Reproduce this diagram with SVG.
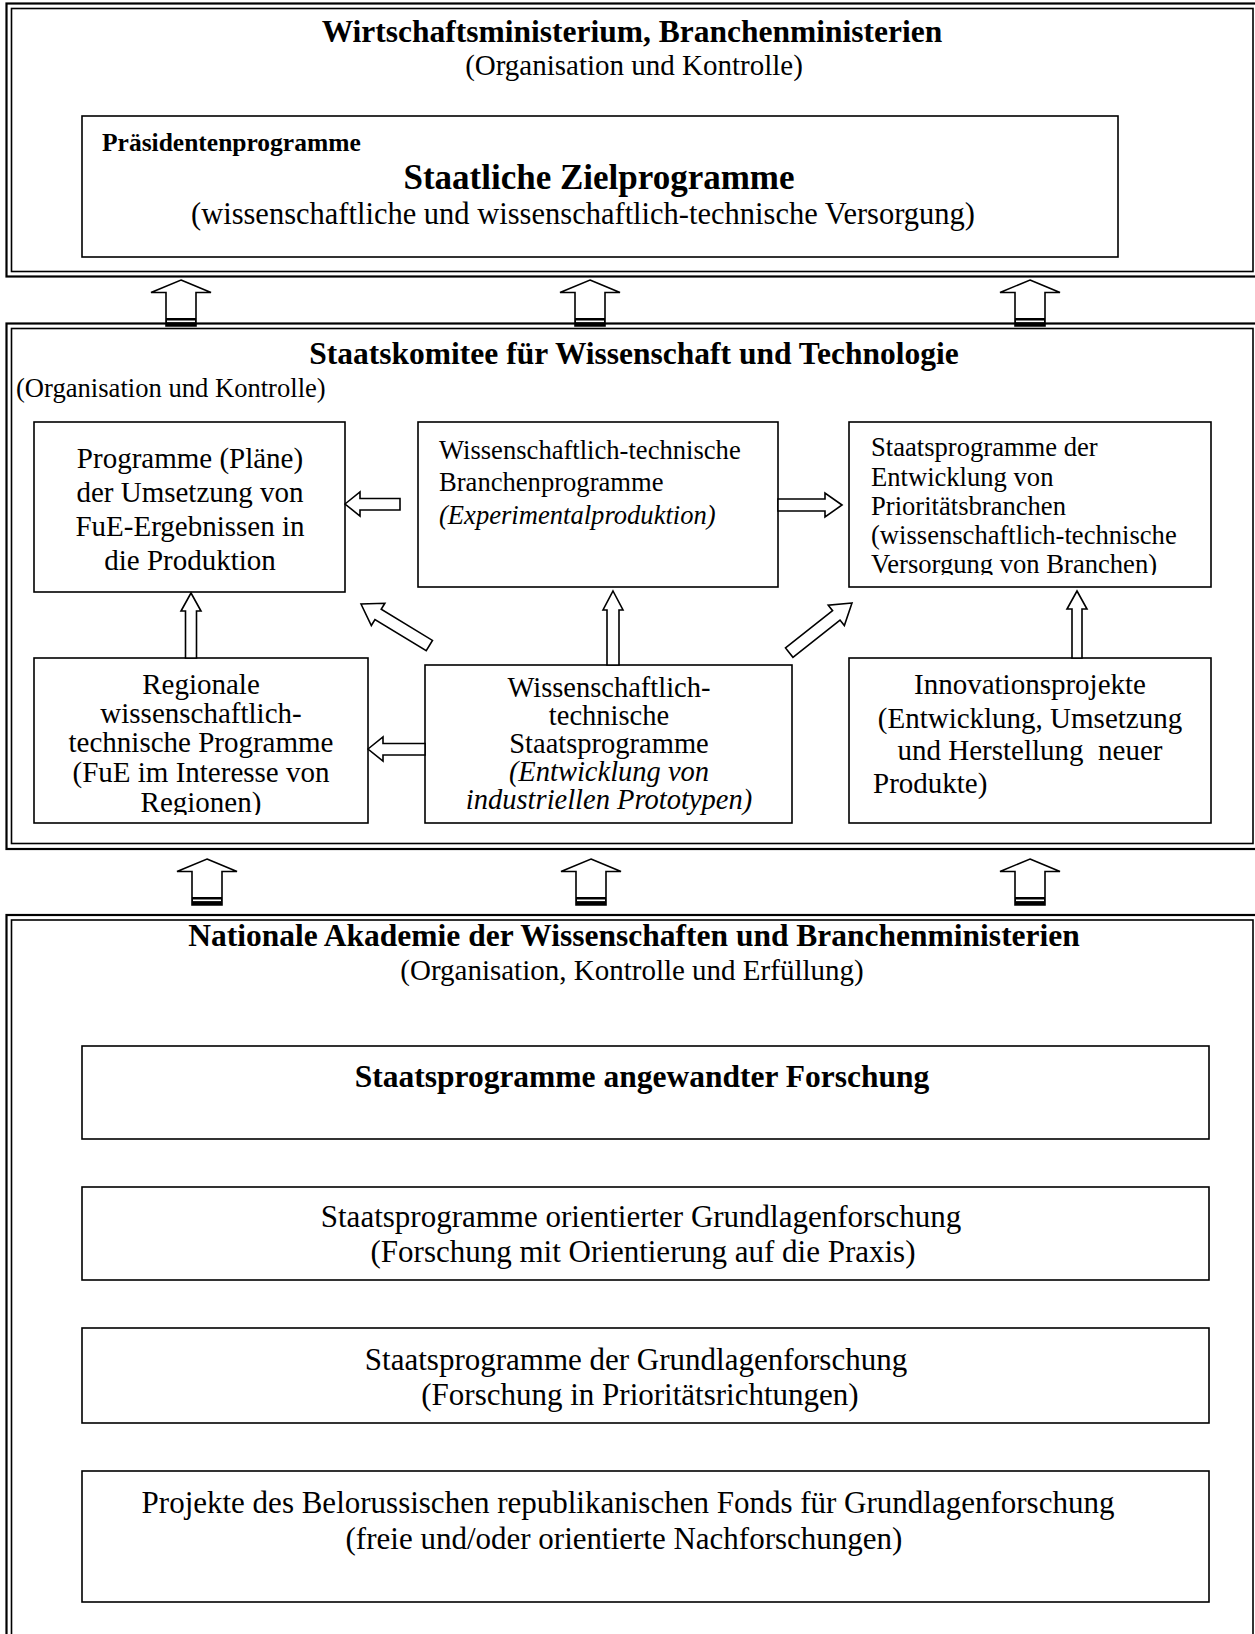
<svg xmlns="http://www.w3.org/2000/svg" width="1255" height="1634" viewBox="0 0 1255 1634">
<style>
text{font-family:"Liberation Serif","Times New Roman",serif;fill:#000}
.b{font-weight:bold}
.i{font-style:italic}
.m{text-anchor:middle}
.fo{fill:none;stroke:#000;stroke-width:2.2}
.fi{fill:none;stroke:#000;stroke-width:1.6}
.box{fill:#fff;stroke:#000;stroke-width:1.6}
.ar{fill:#fff;stroke:#000;stroke-width:1.6;stroke-linejoin:miter}
.t29{font-size:29px}
.t28{font-size:28.5px}
.t27{font-size:26.6px}
.t31{font-size:31px}
.h{font-size:31.5px}
</style>
<defs>
<clipPath id="clipC"><rect x="849" y="422" width="362" height="153"/></clipPath>
<clipPath id="clipD"><rect x="34" y="658" width="334" height="157"/></clipPath>
<clipPath id="clipE"><rect x="425" y="665" width="367" height="153"/></clipPath>
<g id="bigUp">
<polygon class="ar" points="0,0 30,12.5 15,12.5 15,46 -15,46 -15,12.5 -30,12.5"/>
<rect x="-15" y="38" width="30" height="8" fill="#000"/>
<rect x="-14" y="40.5" width="28" height="1.6" fill="#fff"/>
</g>
</defs>
<rect width="1255" height="1634" fill="#fff"/>

<g id="frame-top">
<rect class="fo" x="6.5" y="3.5" width="1252" height="273"/>
<rect class="fi" x="11.5" y="8.5" width="1241.5" height="263"/>
<text class="b h m" x="632" y="42">Wirtschaftsministerium, Branchenministerien</text>
<text class="t29 m" x="634" y="75">(Organisation und Kontrolle)</text>
</g>
<g id="node-zielprogramme">
<rect class="box" x="82" y="116" width="1036" height="141"/>
<text class="b" x="102" y="151" style="font-size:25.5px">Präsidentenprogramme</text>
<text class="b m" x="599" y="189" style="font-size:35px">Staatliche Zielprogramme</text>
<text class="m" x="583" y="224" style="font-size:30.5px">(wissenschaftliche und wissenschaftlich-technische Versorgung)</text>
</g>

<g id="frame-middle">
<rect class="fo" x="6.5" y="323.5" width="1252" height="525.5"/>
<rect class="fi" x="11.5" y="328.5" width="1241.5" height="515"/>
<text class="b h m" x="634" y="364">Staatskomitee für Wissenschaft und Technologie</text>
<text class="t27" x="16" y="397">(Organisation und Kontrolle)</text>
</g>
<g id="node-umsetzung">
<rect class="box" x="34" y="422" width="311" height="170"/>
<text class="t29 m" x="190" y="468">Programme (Pläne)</text>
<text class="t29 m" x="190" y="502">der Umsetzung von</text>
<text class="t29 m" x="190" y="536">FuE-Ergebnissen in</text>
<text class="t29 m" x="190" y="570">die Produktion</text>
</g>
<g id="node-branchenprogramme">
<rect class="box" x="418" y="422" width="360" height="165"/>
<text class="t27" x="439" y="459">Wissenschaftlich-technische</text>
<text class="t27" x="439" y="491">Branchenprogramme</text>
<text class="t27 i" x="439" y="524">(Experimentalproduktion)</text>
</g>
<g id="node-prioritaetsbranchen">
<rect class="box" x="849" y="422" width="362" height="165"/>
<g clip-path="url(#clipC)">
<text class="t27" x="871" y="456">Staatsprogramme der</text>
<text class="t27" x="871" y="486">Entwicklung von</text>
<text class="t27" x="871" y="515">Prioritätsbranchen</text>
<text class="t27" x="871" y="544">(wissenschaftlich-technische</text>
<text class="t27" x="871" y="573">Versorgung von Branchen)</text>
</g>
</g>
<g id="node-regionale">
<rect class="box" x="34" y="658" width="334" height="165"/>
<g clip-path="url(#clipD)">
<text class="t29 m" x="201" y="694">Regionale</text>
<text class="t29 m" x="201" y="723">wissenschaftlich-</text>
<text class="t29 m" x="201" y="752">technische Programme</text>
<text class="t29 m" x="201" y="782">(FuE im Interesse von</text>
<text class="t29 m" x="201" y="812">Regionen)</text>
</g>
</g>
<g id="node-staatsprogramme-wt">
<rect class="box" x="425" y="665" width="367" height="158"/>
<g clip-path="url(#clipE)">
<text class="t28 m" x="609" y="697">Wissenschaftlich-</text>
<text class="t28 m" x="609" y="725">technische</text>
<text class="t28 m" x="609" y="753">Staatsprogramme</text>
<text class="t28 m i" x="609" y="781">(Entwicklung von</text>
<text class="t28 m i" x="609" y="809">industriellen Prototypen)</text>
</g>
</g>
<g id="node-innovation">
<rect class="box" x="849" y="658" width="362" height="165"/>
<text class="t29 m" x="1030" y="694">Innovationsprojekte</text>
<text class="t29 m" x="1030" y="728">(Entwicklung, Umsetzung</text>
<text class="t29 m" x="1030" y="760">und Herstellung&#160; neuer</text>
<text class="t29" x="873" y="793">Produkte)</text>
</g>

<g id="frame-bottom">
<rect class="fo" x="6.5" y="915" width="1252" height="740"/>
<rect class="fi" x="11.5" y="920" width="1241.5" height="730"/>
<text class="b h m" x="634" y="946">Nationale Akademie der Wissenschaften und Branchenministerien</text>
<text class="t29 m" x="632" y="980">(Organisation, Kontrolle und Erfüllung)</text>
</g>
<g id="node-angewandte">
<rect class="box" x="82" y="1046" width="1127" height="93"/>
<text class="b m" x="642" y="1087" style="font-size:31.5px">Staatsprogramme angewandter Forschung</text>
</g>
<g id="node-orientierte">
<rect class="box" x="82" y="1187" width="1127" height="93"/>
<text class="t31 m" x="641" y="1227">Staatsprogramme orientierter Grundlagenforschung</text>
<text class="t31 m" x="643" y="1262">(Forschung mit Orientierung auf die Praxis)</text>
</g>
<g id="node-grundlagen">
<rect class="box" x="82" y="1328" width="1127" height="95"/>
<text class="t31 m" x="636" y="1370">Staatsprogramme der Grundlagenforschung</text>
<text class="t31 m" x="640" y="1405">(Forschung in Prioritätsrichtungen)</text>
</g>
<g id="node-fonds">
<rect class="box" x="82" y="1471" width="1127" height="131"/>
<text class="t31 m" x="628" y="1513">Projekte des Belorussischen republikanischen Fonds für Grundlagenforschung</text>
<text class="t31 m" x="624" y="1549">(freie und/oder orientierte Nachforschungen)</text>
</g>

<g id="connectors">
<use href="#bigUp" x="181" y="280"/>
<use href="#bigUp" x="590" y="280"/>
<use href="#bigUp" x="1030" y="280"/>
<use href="#bigUp" x="207" y="859"/>
<use href="#bigUp" x="591" y="859"/>
<use href="#bigUp" x="1030" y="859"/>
<polygon class="ar" points="345,504 360,492 360,498.5 400,498.5 400,510 360,510 360,516"/>
<polygon class="ar" points="842,505 825,493 825,499 778,499 778,511 825,511 825,517"/>
<polygon class="ar" points="613,591 623,610 619,610 619,665 607,665 607,610 603,610"/>
<polygon class="ar" points="1077,591 1087,609 1082,609 1082,658 1072,658 1072,609 1067,609"/>
<polygon class="ar" points="191,593 201,611 196.5,611 196.5,658 185.5,658 185.5,611 181,611"/>
<polygon class="ar" points="368,749 383,737 383,743.5 425,743.5 425,755 383,755 383,761"/>
<polygon class="ar" transform="translate(361,604) rotate(211.3)" points="0,0 -20,-13 -20,-6 -80,-6 -80,6 -20,6 -20,13"/>
<polygon class="ar" transform="translate(852,603) rotate(-38.3)" points="0,0 -20,-13 -20,-6 -80,-6 -80,6 -20,6 -20,13"/>
</g>
</svg>
